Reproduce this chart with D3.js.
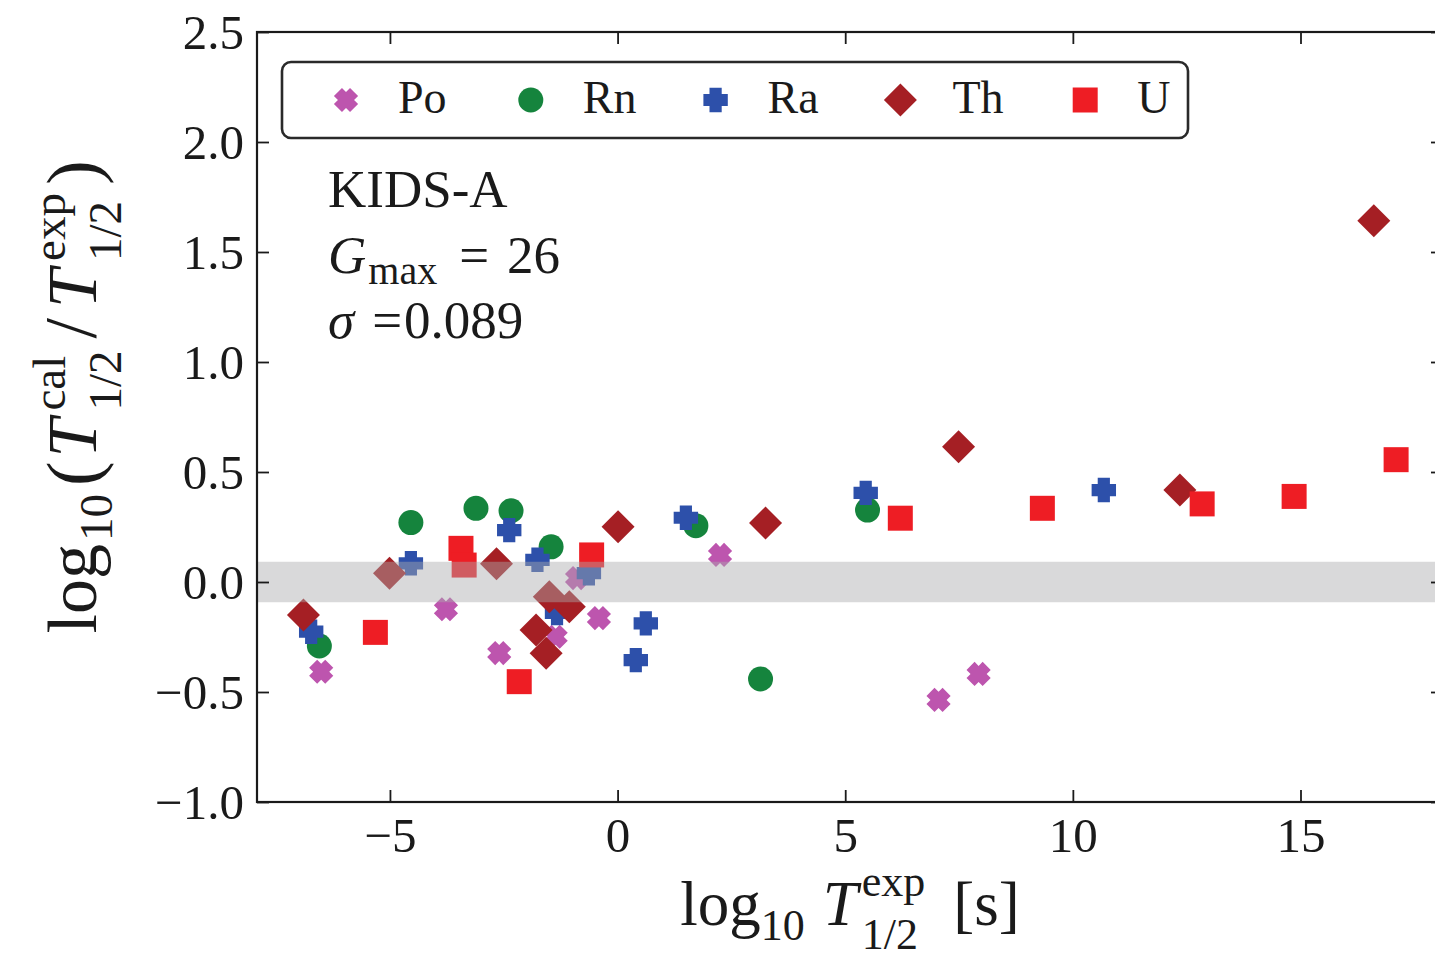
<!DOCTYPE html>
<html><head><meta charset="utf-8">
<script src="https://cdn.jsdelivr.net/npm/d3@7"></script>
<style>
body{margin:0;background:#fff}
svg{display:block}
text{font-family:"Liberation Serif","Times New Roman",serif;fill:#1a1a1a}
</style>
</head><body>
<svg id="chart" width="1435" height="967"></svg>
<script>
// ---------------- data ----------------
const seriesNames = ["Po", "Rn", "Ra", "Th", "U"];
const poX = [-6.51, -3.77, -2.60, -1.36, -0.89, -0.41, 2.25, 7.05, 7.93];
const poY = [-0.408, -0.124, -0.323, -0.249, 0.018, -0.164, 0.123, -0.536, -0.418];
const rnX = [-6.55, -4.54, -3.11, -2.34, -1.46, 1.72, 3.14, 5.49];
const rnY = [-0.291, 0.270, 0.335, 0.324, 0.160, 0.256, -0.441, 0.327];
const raX = [-6.73, -4.54, -2.38, -1.76, -1.33, -0.63, 0.40, 0.62, 1.50, 5.45, 10.68];
const raY = [-0.226, 0.085, 0.236, 0.101, -0.141, 0.040, -0.355, -0.188, 0.292, 0.405, 0.418];
const thX = [-6.90, -5.01, -2.66, -1.79, -1.57, -1.50, -1.06, 0.01, 3.25, 7.49, 12.35, 16.61];
const thY = [-0.150, 0.040, 0.083, -0.218, -0.324, -0.067, -0.112, 0.251, 0.268, 0.615, 0.418, 1.642];
const uX = [-5.32, -3.44, -3.37, -2.16, -0.57, 6.21, 9.33, 12.84, 14.86, 17.10];
const uY = [-0.229, 0.153, 0.077, -0.453, 0.123, 0.290, 0.335, 0.355, 0.389, 0.556];
const xTickValues = [-5, 0, 5, 10, 15];
const yTickValues = [-1.0, -0.5, 0.0, 0.5, 1.0, 1.5, 2.0, 2.5];
const xDomain = [-7.92, 18.13];
const yDomain = [-1.0, 2.5];
const sigma = 0.089;
const bandHalfWidth = 0.092;
const modelName = "KIDS-A";
const gMax = 26;

// ---------------- layout ----------------
const svg = d3.select("#chart");
const L = 257, R = 1443, T = 32, B = 802;
const x = d3.scaleLinear().domain(xDomain).range([L, R]);
const y = d3.scaleLinear().domain(yDomain).range([B, T]);

const colors = {Po: "#bd55ae", Rn: "#15843d", Ra: "#2d50aa", Th: "#a51f24", U: "#ee1d24"};

// custom symbol types for d3.symbol (size = half-extent in px)
function poly(ctx, pts) { ctx.moveTo(pts[0][0], pts[0][1]); for (let i = 1; i < pts.length; i++) ctx.lineTo(pts[i][0], pts[i][1]); ctx.closePath(); }
function plusPts(r) { const a = r / 2; return [[-a,-r],[a,-r],[a,-a],[r,-a],[r,a],[a,a],[a,r],[-a,r],[-a,a],[-r,a],[-r,-a],[-a,-a]]; }
const symPlus = {draw(ctx, r) { poly(ctx, plusPts(r)); }};
const symX = {draw(ctx, r) { const c = Math.SQRT1_2; poly(ctx, plusPts(r).map(([px, py]) => [c*(px - py), c*(px + py)])); }};
const symDiamond = {draw(ctx, r) { poly(ctx, [[0,-r],[r,0],[0,r],[-r,0]]); }};
const symSquare = {draw(ctx, r) { poly(ctx, [[-r,-r],[r,-r],[r,r],[-r,r]]); }};
const symCircle = {draw(ctx, r) { ctx.moveTo(r, 0); ctx.arc(0, 0, r, 0, 2*Math.PI); ctx.closePath(); }};
const symbols = {
  Po: d3.symbol().type(symX).size(11.4),
  Rn: d3.symbol().type(symCircle).size(12.5),
  Ra: d3.symbol().type(symPlus).size(12.2),
  Th: d3.symbol().type(symDiamond).size(16.5),
  U:  d3.symbol().type(symSquare).size(12.5)
};
const seriesData = {
  Po: poX.map((v, i) => [v, poY[i]]),
  Rn: rnX.map((v, i) => [v, rnY[i]]),
  Ra: raX.map((v, i) => [v, raY[i]]),
  Th: thX.map((v, i) => [v, thY[i]]),
  U:  uX.map((v, i) => [v, uY[i]])
};

svg.append("defs").append("clipPath").attr("id", "plotclip")
  .append("rect").attr("x", L).attr("y", T).attr("width", R - L).attr("height", B - T);

const plot = svg.append("g").attr("clip-path", "url(#plotclip)");

// markers
seriesNames.forEach(name => {
  plot.append("g").selectAll("path").data(seriesData[name]).join("path")
    .attr("d", symbols[name]())
    .attr("transform", d => `translate(${x(d[0])},${y(d[1])})`)
    .attr("fill", colors[name]);
});

// sigma band (drawn on top, translucent)
plot.append("rect")
  .attr("x", L).attr("width", R - L)
  .attr("y", y(bandHalfWidth)).attr("height", y(-bandHalfWidth) - y(bandHalfWidth))
  .attr("fill", "#aaaaad").attr("fill-opacity", 0.45);

// axes (inward ticks on all four sides)
const tickLen = 12;
const fmtY = d => d3.format(".1f")(d).replace("-", "\u2212");
const fmtX = d => d3.format("d")(d).replace("-", "\u2212");

const axBottom = svg.append("g").attr("transform", `translate(0,${B})`)
  .call(d3.axisBottom(x).tickValues(xTickValues).tickSize(-tickLen).tickPadding(15).tickFormat(fmtX));
const axTop = svg.append("g").attr("transform", `translate(0,${T})`)
  .call(d3.axisTop(x).tickValues(xTickValues).tickSize(-tickLen).tickFormat(""));
const axLeft = svg.append("g").attr("transform", `translate(${L},0)`)
  .call(d3.axisLeft(y).tickValues(yTickValues).tickSize(-tickLen).tickPadding(13).tickFormat(fmtY));
const axRight = svg.append("g").attr("transform", `translate(${R},0)`)
  .call(d3.axisRight(y).tickValues(yTickValues).tickSize(-tickLen).tickFormat(""));

[axBottom, axTop, axLeft, axRight].forEach(a => {
  a.select(".domain").remove();
  a.selectAll(".tick line").attr("stroke", "#1a1a1a").attr("stroke-width", 1.8);
  a.selectAll("text").style("font-size", "49px").attr("fill", "#1a1a1a")
    .style("font-family", '"Liberation Serif","Times New Roman",serif');
});
axLeft.selectAll(".tick text").attr("dy", "0.34em");
axBottom.selectAll(".tick text").attr("dy", "0.71em");

// frame
svg.append("rect").attr("x", L).attr("y", T).attr("width", R - L).attr("height", B - T)
  .attr("fill", "none").attr("stroke", "#1a1a1a").attr("stroke-width", 2.2);

// ---------------- legend ----------------
const leg = svg.append("g");
leg.append("rect").attr("x", 282).attr("y", 62).attr("width", 906).attr("height", 76)
  .attr("rx", 9).attr("fill", "#fff").attr("stroke", "#2a2a2a").attr("stroke-width", 2.6);
seriesNames.forEach((name, i) => {
  const mx = 346 + i * 184.8, my = 100;
  leg.append("path").attr("d", symbols[name]()).attr("transform", `translate(${mx},${my})`)
    .attr("fill", colors[name]);
  leg.append("text").attr("x", mx + 52).attr("y", 113).style("font-size", "46px").text(name);
});

// ---------------- math-like text helper ----------------
function mathText(parent, pieces, base) {
  const g = parent.append("g");
  let cx = 0;
  pieces.forEach(p => {
    if (p.gap !== undefined) { cx += p.gap; return; }
    const items = p.stack ? p.stack : [p];
    let w = 0;
    items.forEach(s => {
      const t = g.append("text").attr("x", cx).attr("y", s.dy || 0)
        .style("font-size", (s.size || base) + "px")
        .style("font-style", s.it ? "italic" : "normal")
        .text(s.t);
      w = Math.max(w, t.node().getComputedTextLength());
    });
    cx += w;
  });
  return {g, width: cx};
}

// annotations
svg.append("text").attr("x", 328).attr("y", 207).style("font-size", "53px").text(modelName);
const gm = mathText(svg, [
  {t: "G", it: true}, {gap: 2}, {t: "max", size: 40, dy: 11}, {gap: 22}, {t: "="}, {gap: 18}, {t: String(gMax)}
], 53);
gm.g.attr("transform", "translate(328,273)");
const sg = mathText(svg, [
  {t: "\u03c3", it: true}, {gap: 18}, {t: "="}, {gap: 2}, {t: d3.format(".3f")(sigma)}
], 53);
sg.g.attr("transform", "translate(328,338)");

// x label
const xl = mathText(svg, [
  {t: "log"}, {t: "10", size: 44, dy: 15}, {gap: 18}, {t: "T", it: true}, {gap: 4},
  {stack: [{t: "exp", size: 44, dy: -29}, {t: "1/2", size: 44, dy: 24}]}, {gap: 28}, {t: "[s]"}
], 63);
xl.g.attr("transform", `translate(${850 - xl.width / 2},925)`);

// y label (rotated)
const yl = mathText(svg, [
  {t: "log"}, {gap: 3}, {t: "10", size: 47, dy: 16}, {gap: 8}, {t: "(", size: 74, dy: 2}, {gap: 4}, {t: "T", it: true}, {gap: 8},
  {stack: [{t: "cal", size: 47, dy: -31}, {t: "1/2", size: 47, dy: 25}]}, {gap: 12}, {t: "/", size: 74}, {gap: 10},
  {t: "T", it: true}, {gap: 8},
  {stack: [{t: "exp", size: 47, dy: -31}, {t: "1/2", size: 47, dy: 25}]}, {gap: 8}, {t: ")", size: 74, dy: 2}
], 70);
yl.g.attr("transform", `translate(96,${397 + yl.width / 2}) rotate(-90)`);
</script>
</body></html>
